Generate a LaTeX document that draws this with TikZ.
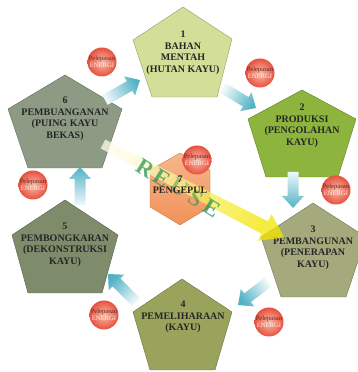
\documentclass[tikz,border=0pt]{standalone}
\usepackage{fontspec}
\setmainfont{Liberation Serif}
\definecolor{pA}{HTML}{D3DF98}
\definecolor{pB}{HTML}{8DB43C}
\definecolor{pC}{HTML}{A5AA7C}
\definecolor{pD}{HTML}{99A35C}
\definecolor{pE}{HTML}{7E8C6C}
\definecolor{pF}{HTML}{8D9B84}
\definecolor{hexTop}{HTML}{F6B68A}
\definecolor{hexBot}{HTML}{F2925A}
\definecolor{enIn}{HTML}{F8BCA8}
\definecolor{enOut}{HTML}{E8503F}
\definecolor{enDark}{HTML}{5A2A22}
\definecolor{enLight}{HTML}{FFF0EA}
\definecolor{arrHead}{HTML}{52B2C4}
\definecolor{arrTail}{HTML}{EEF8FA}
\definecolor{yelHead}{HTML}{F4E600}
\definecolor{yelTail}{HTML}{FFFCE6}
\definecolor{reuseGreen}{HTML}{1F9150}
\newcommand{\fatarr}[4]{%
  \shade[top color=arrHead, bottom color=arrTail, shading angle=#4, shift={(#1)}, rotate=#2]
    (0,-5.5) -- (#3-12,-5.5) -- (#3-12,-11) -- (#3,0) -- (#3-12,11) -- (#3-12,5.5) -- (0,5.5) -- cycle;}
\begin{document}
\begin{tikzpicture}[x=1pt,y=1pt,
  pent/.style={draw=#1!70!black, line width=0.4pt, fill=#1},
  ptext/.style={font=\bfseries\fontsize{10}{11.5}\selectfont, align=center, text=black!85, inner sep=0pt},
  reuseL/.style={text=reuseGreen, opacity=0.7, rotate=-32, font=\bfseries\fontsize{23}{23}\selectfont, inner sep=0pt},
  energy/.style={circle, minimum size=29pt, inner sep=0pt, inner color=enIn, outer color=enOut,
                 font=\fontsize{6.6}{7.4}\selectfont, align=center}]
\clip (0,0) rectangle (358,372);
\fill[white] (0,0) rectangle (358,372);

% pentagons
\path[pent=pA] (183,365) -- (232,333) -- (217,275) -- (152,275) -- (133,332) -- cycle;
\path[pent=pB] (302,282) -- (356,253) -- (338,195) -- (266,195) -- (248,253) -- cycle;
\path[pent=pC] (313,169) -- (366,135) -- (346,75) -- (281,75) -- (261,135) -- cycle;
\path[pent=pD] (182,93) -- (232,60) -- (215,2) -- (150,2) -- (133,60) -- cycle;
\path[pent=pE] (65,172) -- (118,137) -- (102,79) -- (28,79) -- (12,137) -- cycle;
\path[pent=pF] (65,297) -- (122,263) -- (102,204) -- (28,204) -- (8,263) -- cycle;

\node[ptext] (t1) at (183,319) {1\\BAHAN\\MENTAH\\(HUTAN KAYU)};
\node[ptext] (t2) at (302,246) {2\\PRODUKSI\\(PENGOLAHAN\\KAYU)};
\node[ptext] (t3) at (313,124) {3\\PEMBANGUNAN\\(PENERAPAN\\KAYU)};
\node[ptext] (t4) at (183,55) {4\\PEMELIHARAAN\\(KAYU)};
\node[ptext] (t5) at (65,127) {5\\PEMBONGKARAN\\(DEKONSTRUKSI\\KAYU)};
\node[ptext] (t6) at (65,253) {6\\PEMBUANGANAN\\(PUING KAYU\\BEKAS)};

% cycle arrows
\coordinate (a61) at (105,272);
\coordinate (a12) at (223,284);
\coordinate (a23) at (293,200);
\coordinate (a34) at (268,90);
\coordinate (a45) at (136,70);
\coordinate (a56) at (80,167);
\fatarr{a61}{29.7}{40.3}{-60.3}
\fatarr{a12}{-31.2}{38.6}{-121.2}
\fatarr{a23}{-90}{36}{-180}
\fatarr{a34}{217.5}{37.8}{127.5}
\fatarr{a45}{135}{39.6}{45}
\fatarr{a56}{90}{38}{0}

% hexagon 7
\shade[top color=hexTop, bottom color=hexBot, draw=hexBot!80!black, line width=0.3pt]
  (180,219) -- (210,202) -- (210,165) -- (180,147) -- (150,165) -- (150,202) -- cycle;

% yellow reuse arrow
\coordinate (ys) at (103,228);
\shade[top color=yelHead, bottom color=yelTail, shading angle=-117.3, shift={(ys)}, rotate=-27.3, opacity=0.75]
  (0,-5) -- (182,-7) -- (182,-15) -- (204,0) -- (182,15) -- (182,7) -- (0,5) -- cycle;

% REUSE letters
\node[reuseL] (r1) at (146,203) {R};
\node[reuseL] (r2) at (162,194) {E};
\node[reuseL, opacity=0.45] (r3) at (179,184) {U};
\node[reuseL, opacity=0.55] (r4) at (196,173) {S};
\node[reuseL] (r5) at (212,164) {E};

\node[font=\bfseries\fontsize{10}{11}\selectfont, align=center, text=black!85, inner sep=0pt] (t7) at (180,187) {7\\PENGEPUL};

% energy circles
\node[energy] (e6) at (102,310) {\color{enDark}Pelepasan\\\color{enLight}ENERGI};
\node[energy] (e1) at (260,299) {\color{enDark}Pelepasan\\\color{enLight}ENERGI};
\node[energy] (e2) at (336,182) {\color{enDark}Pelepasan\\\color{enLight}ENERGI};
\node[energy] (e3) at (269,50) {\color{enDark}Pelepasan\\\color{enLight}ENERGI};
\node[energy] (e4) at (104,57) {\color{enDark}Pelepasan\\\color{enLight}ENERGI};
\node[energy] (e5) at (33,187) {\color{enDark}Pelepasan\\\color{enLight}ENERGI};
\node[energy] (e7) at (197,212) {\color{enDark}Pelepasan\\\color{enLight}ENERGI};
\end{tikzpicture}
\end{document}
